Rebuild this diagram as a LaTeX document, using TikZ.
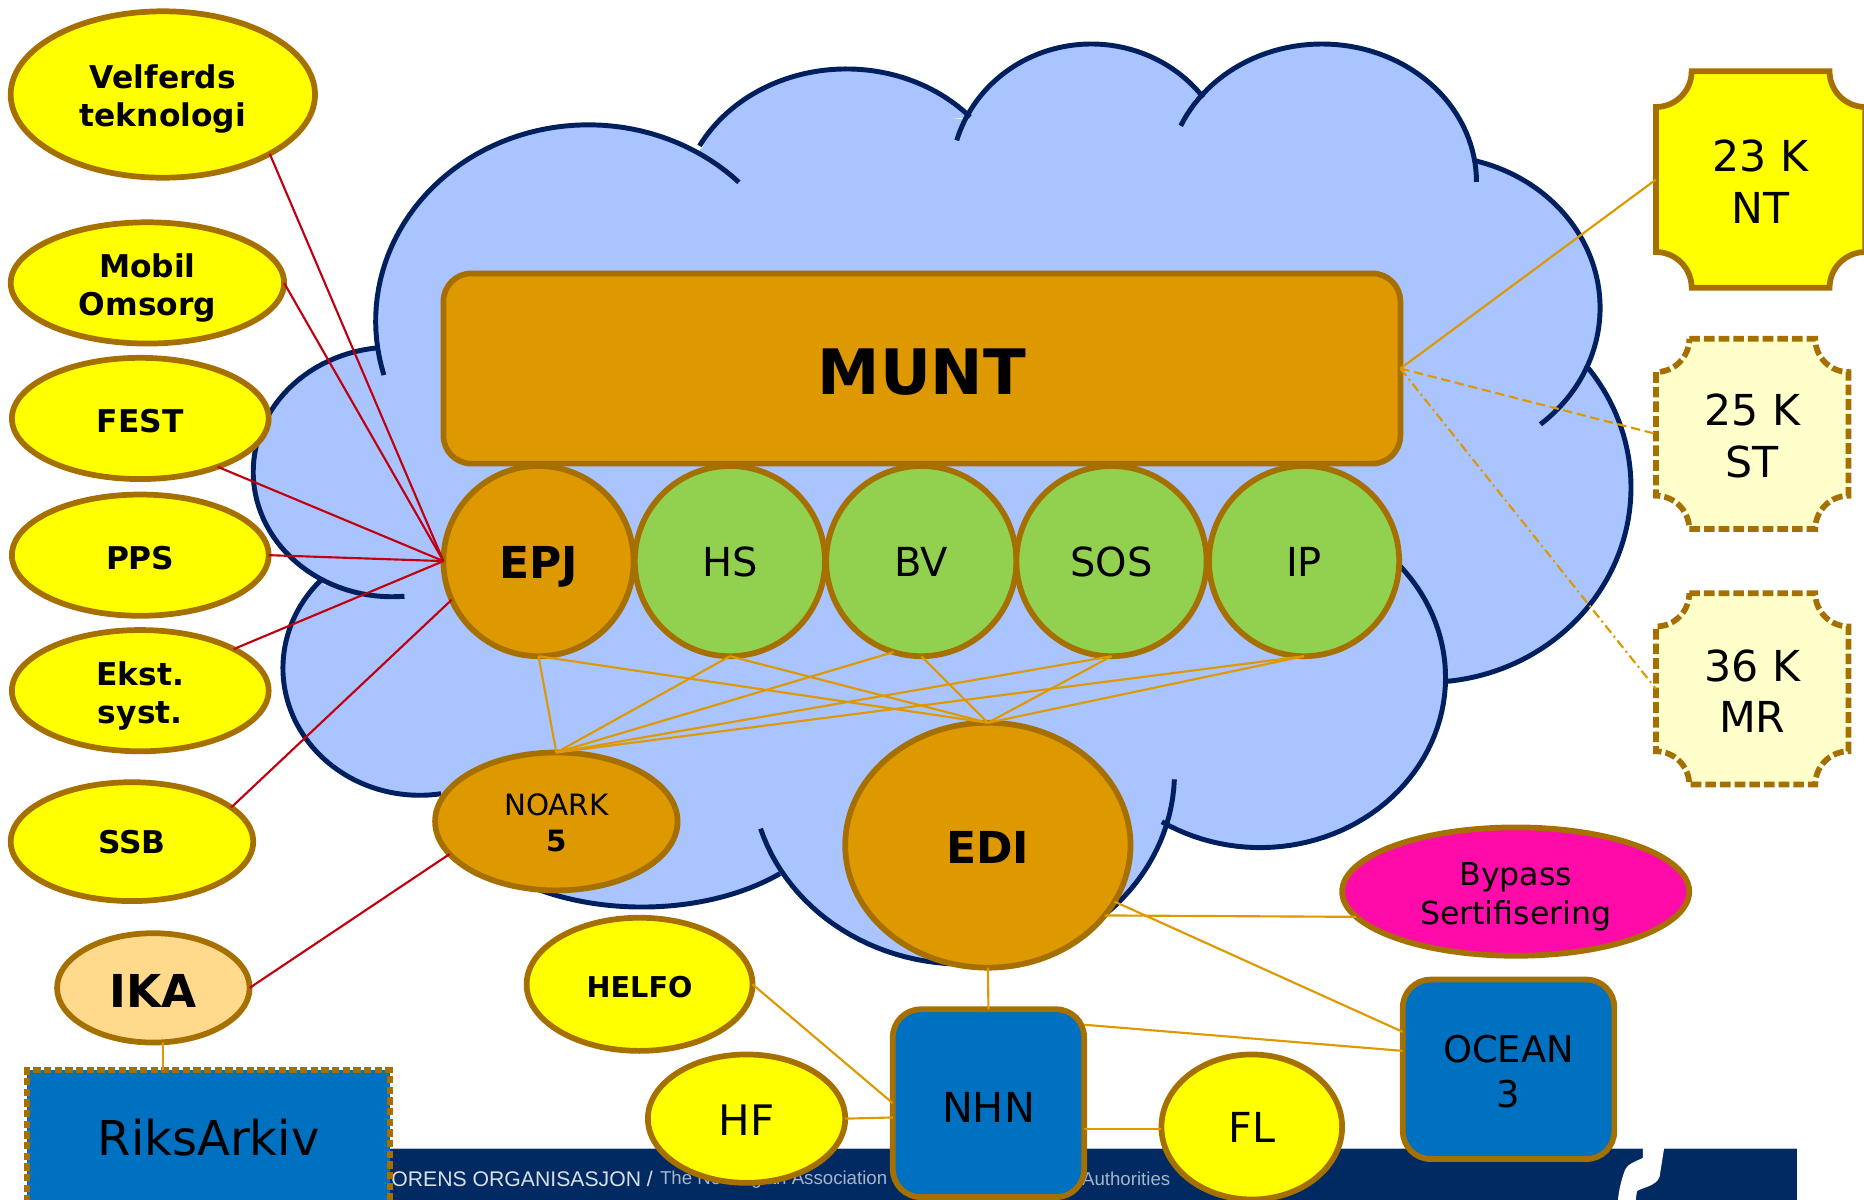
\documentclass[tikz,border=0pt]{standalone}
\usepackage{fontspec}
\setmainfont{DejaVu Sans}
\newfontfamily\footfont{Liberation Sans}
\usetikzlibrary{shapes.geometric,calc}
\definecolor{nodeedge}{HTML}{A67000}
\definecolor{amber}{HTML}{DE9800}
\definecolor{leaf}{HTML}{92D050}
\definecolor{cloudfill}{HTML}{A9C4FF}
\definecolor{cloudedge}{HTML}{001F5F}
\definecolor{blueb}{HTML}{0070C0}
\definecolor{pale}{HTML}{FFFFCC}
\definecolor{peach}{HTML}{FFD98C}
\definecolor{pink}{HTML}{FF0BAA}
\definecolor{redl}{HTML}{C00010}
\definecolor{band}{HTML}{002A61}
\definecolor{pureyellow}{rgb}{1,1,0}
\newcommand{\uu}{0.8916pt}
\newcommand{\fs}[2]{\fontsize{#1pt}{#2pt}\selectfont}
\newcommand{\dn}[1]{\rule{0pt}{\dimexpr 0.76em+#1pt+#1pt\relax}}
\newcommand{\lobes}{%
 \lobe{495}{270}{179}{165}{164}{315}%
 \lobe{712}{180}{140}{122}{208}{318}%
 \lobe{918}{150}{118}{113}{196.4}{323}%
 \lobe{1112}{153}{130}{116}{204}{360}%
 \lobe{1205}{259}{141}{128}{-75.2}{49.9}%
 \lobe{1200}{410}{172}{164}{-38.8}{85}%
 \lobe{1060}{570}{156}{143}{-41}{122}%
 \lobe{810}{650}{178}{161}{2}{163}%
 \lobe{540}{663}{167}{100}{46}{131}%
 \lobe{353}{562}{115}{107}{81}{224}%
 \lobe{330}{397}{117}{105}{85}{264}%
}
\newcommand{\bevel}[6][]{%
 \draw[#1] ({#2+#6},#3) -- ({#4-#6},#3)
  .. controls ({#4-#6},{#3+.55*#6}) and ({#4-.55*#6},{#3+#6}) .. (#4,{#3+#6})
  -- (#4,{#5-#6})
  .. controls ({#4-.55*#6},{#5-#6}) and ({#4-#6},{#5-.55*#6}) .. ({#4-#6},#5)
  -- ({#2+#6},#5)
  .. controls ({#2+#6},{#5-.55*#6}) and ({#2+.55*#6},{#5-#6}) .. (#2,{#5-#6})
  -- (#2,{#3+#6})
  .. controls ({#2+.55*#6},{#3+#6}) and ({#2+#6},{#3+.55*#6}) .. ({#2+#6},#3) -- cycle;}
\tikzset{
 x=\uu,y=-\uu,
 base/.style={draw=nodeedge,line width=4.3pt,inner sep=0pt,outer sep=0pt,align=center,text=black},
 oval/.style n args={2}{base,ellipse,minimum width=#1*2*\uu,minimum height=#2*2*\uu},
 yel/.style={fill=pureyellow},
 amb/.style={fill=amber},
 lab/.style={font=\bfseries\fs{23.5}{28.5}},
 sq/.style n args={2}{base,rectangle,rounded corners=21pt,minimum width=#1*\uu,minimum height=#2*\uu},
 tag/.style={draw=nodeedge,line width=4.3pt},
 tagbox/.style n args={2}{rectangle,inner sep=0pt,outer sep=0pt,align=center,minimum width=#1*\uu,minimum height=#2*\uu,font=\fs{32}{38.5}},
 redline/.style={draw=redl,line width=1.6pt},
 ambline/.style={draw=amber,line width=1.6pt},
 cloudline/.style={draw=cloudedge,line width=3.7pt}
}
\begin{document}
\begin{tikzpicture}
\useasboundingbox (0,0) rectangle (1568,1009.3);
% cloud fill
\def\lobe#1#2#3#4#5#6{\fill[cloudfill] plot[domain=#5:#6,samples=60,variable=\t] ({#1+#3*cos(\t)},{#2+#4*sin(\t)}) -- cycle;}
\fill[cloudfill] (580,135)--(600,115)--(640,100)--(715,100)--(812,100)--(918,80)--(1000,78)--(1007,87)--(1112,90)--(1240,135)--(1335,310)--(1215,573)--(980,690)--(820,780)--(650,735)--(540,750)--(430,735)--(360,655)--(272,500)--(316,293)--cycle;
\lobes
\def\lobe#1#2#3#4#5#6{\draw[cloudline] plot[domain=#5:#6,samples=60,variable=\t] ({#1+#3*cos(\t)},{#2+#4*sin(\t)});}
\lobes
% footer band
\fill[band] (328,966) rectangle (1512,1009.3);
\draw[white!70!band,line width=.8pt] (328,966)--(1512,966);
\node[anchor=west,text=white!85!band,inner sep=0pt,font=\footfont\fs{15.9}{17}] (ft1) at (329,992) {ORENS ORGANISASJON /};
\node[anchor=west,text=white!65!band,inner sep=0pt,font=\footfont\fs{14}{16}] (ft2) at (555,992) {The Norwegian Association};
\node[anchor=west,text=white!65!band,inner sep=0pt,font=\footfont\fs{14}{16}] (ft3) at (910,992) {Authorities};
\fill[white] (1382,965) -- (1382,974) .. controls (1376,977) and (1369,979) .. (1367,984)
  .. controls (1364,992) and (1362,1000) .. (1361,1009.3) -- (1376,1009.3) -- (1377,1002)
  .. controls (1381,999) and (1393,998) .. (1396,990) -- (1400,965) -- cycle;
% nodes
\node[oval={128}{70},yel,lab] (velf) at (137,79.5) {\dn{3.6}Velferds\\teknologi};
\node[oval={115}{51},yel,lab] (mobil) at (124,238) {\dn{3.6}Mobil\\Omsorg};
\node[oval={108}{51},yel,lab] (fest) at (118,352) {\dn{1.8}FEST};
\node[oval={108}{51},yel,lab] (pps) at (118,467) {\dn{1.8}PPS};
\node[oval={108}{51},yel,lab] (ekst) at (118,581) {\dn{3.6}Ekst.\\syst.};
\node[oval={102}{50},yel,lab] (ssb) at (111,708) {SSB};
\node[oval={81}{46},fill=peach,font=\bfseries\fs{34}{40}] (ika) at (129,831) {\dn{1.8}IKA};
\node[base,rectangle,fill=blueb,minimum width=305*\uu,minimum height=119*\uu,dash pattern=on 5.5pt off 2.5pt,font=\fs{36}{42}] (riks) at (175.5,959.5) {RiksArkiv\rule[-4.5pt]{0pt}{4.5pt}};
\node[base,rectangle,rounded corners=21pt,fill=amber,minimum width=805*\uu,minimum height=160*\uu,font=\bfseries\fs{47}{52}] (munt) at (775.5,310) {\dn{1.8}MUNT};
\node[oval={80}{80},amb,font=\bfseries\fs{33}{38}] (epj) at (453,472) {\dn{3.6}EPJ};
\node[oval={80}{80},fill=leaf,font=\fs{30}{36}] (hs) at (614,472) {\dn{.5}HS};
\node[oval={80}{80},fill=leaf,font=\fs{30}{36}] (bv) at (775,472) {\dn{.5}BV};
\node[oval={80}{80},fill=leaf,font=\fs{30}{36}] (sos) at (935,472) {\dn{.5}SOS};
\node[oval={80}{80},fill=leaf,font=\fs{30}{36}] (ip) at (1097,472) {\dn{.5}IP};
\node[oval={102}{58},amb,font=\fs{22}{27}] (noark) at (468,691) {\dn{1}NOARK\\\textbf{5}};
\node[oval={120}{103},amb,font=\bfseries\fs{33}{38}] (edi) at (831,711) {\dn{.9}EDI};
\node[oval={146}{54},fill=pink,font=\fs{23.7}{29}] (bypass) at (1275,750) {\dn{3.6}Bypass\\Sertifisering};
\node[oval={95}{56},yel,font=\bfseries\fs{21.5}{26}] (helfo) at (538,828) {\dn{1.8}HELFO};
\node[oval={83}{54},yel,font=\fs{31.5}{36}] (hf) at (628,941) {\dn{.8}HF};
\node[sq={161}{158},fill=blueb,font=\fs{31}{36}] (nhn) at (831.5,928) {\dn{2.7}NHN};
\node[oval={76}{61},yel,font=\fs{31}{36}] (fl) at (1053,948) {FL};
\node[sq={178}{151},fill=blueb,font=\fs{27.6}{34}] (ocean) at (1269,899.5) {\dn{1.5}OCEAN\\3};
\bevel[tag,fill=pureyellow]{1393}{60}{1569}{242}{30}
\bevel[tag,fill=pale,dash pattern=on 8pt off 3pt]{1393}{285}{1555}{445}{28}
\bevel[tag,fill=pale,dash pattern=on 8pt off 3pt]{1393}{499}{1555}{660}{28}
\node[tagbox={176}{182}] (nt) at (1481,151) {\dn{1.3}23 K\\NT};
\node[tagbox={162}{160}] (st) at (1474,365) {\dn{1.3}25 K\\ST};
\node[tagbox={162}{161}] (mr) at (1474,579.5) {\dn{1.3}36 K\\MR};
% red connectors
\draw[redline] (velf.-29.3) -- (epj.west);
\draw[redline] (mobil.east) -- (epj.west);
\draw[redline] (fest.-32.5) -- (epj.west);
\draw[redline] (pps.east) -- (epj.west);
\draw[redline] (ekst.24.8) -- (epj.west);
\draw[redline] (ssb.19.6) -- (epj.204);
\draw[redline] (ika.east) -- (noark.197);
% orange connectors
\draw[ambline] (munt.east) -- (nt.west);
\draw[ambline,dash pattern=on 7pt off 3.5pt] (munt.east) -- (st.west);
\draw[ambline,dash pattern=on 7pt off 3pt on 1.5pt off 3pt] (munt.east) -- (mr.west);
\draw[ambline] (epj.south) -- (noark.north);
\draw[ambline] (hs.south) -- (noark.north);
\draw[ambline] (bv.253) -- (noark.north);
\draw[ambline] (sos.south) -- (noark.north);
\draw[ambline] (ip.south) -- (noark.north);
\draw[ambline] (epj.south) -- (edi.north);
\draw[ambline] (hs.south) -- (edi.north);
\draw[ambline] (bv.south) -- (edi.north);
\draw[ambline] (sos.south) -- (edi.north);
\draw[ambline] (ip.south) -- (edi.north);
\draw[ambline] (edi.south) -- (nhn.north);
\draw[ambline] (edi.-31.6) -- (bypass.189.4);
\draw[ambline] (edi.-24.6) -- (ocean.west |- 0,868);
\draw[ambline] (nhn.east |- 0,862) -- (ocean.west |- 0,884);
\draw[ambline] (helfo.east) -- (nhn.west |- 0,928);
\draw[ambline] (hf.east) -- (nhn.west |- 0,940);
\draw[ambline] (nhn.east |- 0,950) -- (fl.west |- 0,950);
\draw[ambline] (ika.-80) -- (ika.-80 |- riks.north);
\end{tikzpicture}
\end{document}
